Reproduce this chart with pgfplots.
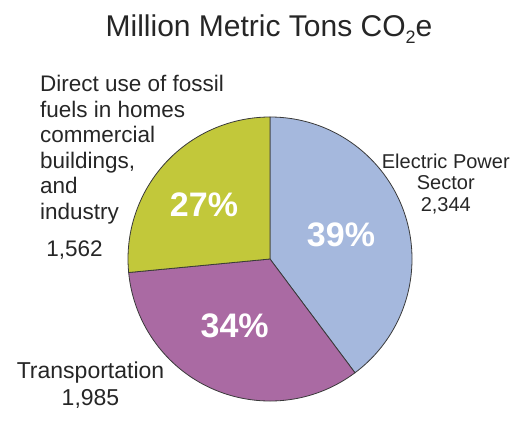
\documentclass[border=0pt]{standalone}
\usepackage{pgfplots}
\pgfplotsset{compat=1.18}
\usepackage{pgfplotstable}
\usepackage{fontspec}
\setmainfont{Liberation Sans}
\definecolor{cBlue}{HTML}{A5B8DD}
\definecolor{cPurple}{HTML}{AA6AA3}
\definecolor{cGreen}{HTML}{C2C83A}
\definecolor{cEdge}{HTML}{3A3A3A}

\pgfplotstableread{
sector value
Electric 2344
Transport 1985
Direct 1562
}\piedata

\begin{document}
\begin{tikzpicture}
\pgfplotstablegetelem{0}{value}\of\piedata \edef\vA{\pgfplotsretval}
\pgfplotstablegetelem{1}{value}\of\piedata \edef\vB{\pgfplotsretval}
\pgfplotstablegetelem{2}{value}\of\piedata \edef\vC{\pgfplotsretval}
\pgfmathsetmacro\total{\vA+\vB+\vC}
\pgfmathsetmacro\fA{\vA/\total}
\pgfmathsetmacro\fB{\vB/\total}
\pgfmathsetmacro\fC{\vC/\total}
\pgfmathsetmacro\aA{90}
\pgfmathsetmacro\aB{\aA-360*\fA}
\pgfmathsetmacro\aC{\aB-360*\fB}
\pgfmathsetmacro\aD{\aC-360*\fC}
\begin{axis}[
  x=1bp, y=1bp,
  xmin=0, xmax=518, ymin=0, ymax=409,
  hide axis, clip=false,
]
\path (axis cs:0,0) rectangle (axis cs:518,409);
% pie wedges (centre at pixel 270,259; radius 142)
\filldraw[fill=cBlue, draw=cEdge, line width=0.8bp]
  (axis cs:270,150) -- ++(\aA:142bp) arc[start angle=\aA, end angle=\aB, radius=142bp] -- cycle;
\filldraw[fill=cPurple, draw=cEdge, line width=0.8bp]
  (axis cs:270,150) -- ++(\aB:142bp) arc[start angle=\aB, end angle=\aC, radius=142bp] -- cycle;
\filldraw[fill=cGreen, draw=cEdge, line width=0.8bp]
  (axis cs:270,150) -- ++(\aC:142bp) arc[start angle=\aC, end angle=\aD, radius=142bp] -- cycle;

% title
\node[anchor=base, inner sep=0pt, font=\fontsize{30bp}{34bp}\selectfont, text=black!85]
  at (axis cs:269,372) {Million Metric Tons CO\raisebox{-7bp}{\fontsize{18bp}{18bp}\selectfont 2}e};

% percentages
\node[anchor=base, inner sep=0pt, text=white, font=\fontsize{34bp}{38bp}\selectfont\bfseries]
  at (axis cs:341,162.3) {39\%};
\node[anchor=base, inner sep=0pt, text=white, font=\fontsize{34bp}{38bp}\selectfont\bfseries]
  at (axis cs:234.7,71.7) {34\%};
\node[anchor=base, inner sep=0pt, text=white, font=\fontsize{34bp}{38bp}\selectfont\bfseries]
  at (axis cs:204,192.3) {27\%};

% left label
\begin{scope}[every node/.style={anchor=base west, inner sep=0pt, text=black!85, font=\fontsize{22.5bp}{26bp}\selectfont}]
\node at (axis cs:40,317.3) {Direct use of fossil};
\node at (axis cs:40,291.8) {fuels in homes};
\node at (axis cs:40,266.3) {commercial};
\node at (axis cs:40,240.8) {buildings,};
\node at (axis cs:40,215.3) {and};
\node at (axis cs:40,189.8) {industry};
\end{scope}
\node[anchor=base, inner sep=0pt, text=black!85, font=\fontsize{22.5bp}{26bp}\selectfont]
  at (axis cs:74.5,152.3) {1,562};

% electric label
\begin{scope}[every node/.style={anchor=base, inner sep=0pt, text=black!85, font=\fontsize{20bp}{23bp}\selectfont}]
\node at (axis cs:445.8,240.7) {Electric Power};
\node at (axis cs:445.8,219) {Sector};
\node at (axis cs:445.8,197.3) {2,344};
\end{scope}

% transportation label
\begin{scope}[every node/.style={anchor=base, inner sep=0pt, text=black!85, font=\fontsize{23bp}{27bp}\selectfont}]
\node at (axis cs:90.5,31) {Transportation};
\node at (axis cs:90.5,4) {1,985};
\end{scope}
\end{axis}
\end{tikzpicture}
\end{document}
